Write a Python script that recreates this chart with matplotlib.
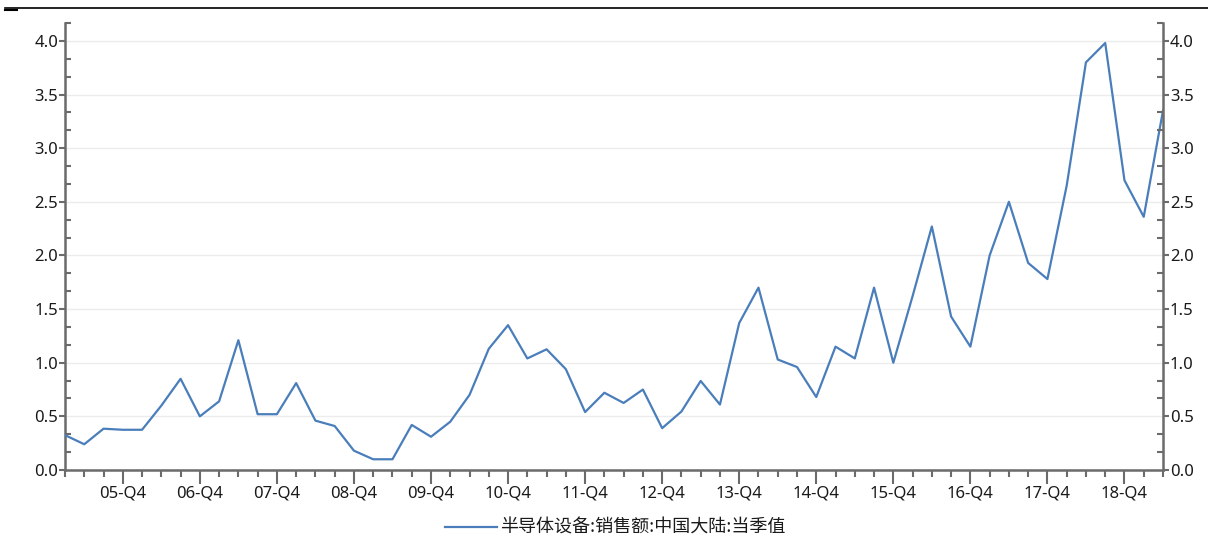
import matplotlib
matplotlib.use("Agg")
import matplotlib.pyplot as plt
from matplotlib.lines import Line2D
from matplotlib.ticker import MultipleLocator, FixedLocator
import numpy as np

plt.rcParams['font.family'] = ['Noto Sans', 'Noto Sans CJK SC', 'DejaVu Sans']

# Quarterly values, 05-Q1 .. 19-Q2
values = [0.325, 0.24, 0.385, 0.375, 0.375, 0.60, 0.85, 0.50, 0.64, 1.21,
          0.52, 0.52, 0.81, 0.46, 0.41, 0.18, 0.10, 0.10, 0.42, 0.31,
          0.45, 0.70, 1.13, 1.35, 1.04, 1.125, 0.94, 0.54, 0.72, 0.625,
          0.75, 0.39, 0.545, 0.83, 0.61, 1.37, 1.70, 1.03, 0.96, 0.68,
          1.15, 1.04, 1.70, 1.00, 1.62, 2.27, 1.43, 1.15, 2.00, 2.50,
          1.93, 1.78, 2.65, 3.80, 3.98, 2.70, 2.36, 3.35]
tick_labels = ['05-Q4', '06-Q4', '07-Q4', '08-Q4', '09-Q4', '10-Q4', '11-Q4',
               '12-Q4', '13-Q4', '14-Q4', '15-Q4', '16-Q4', '17-Q4', '18-Q4']
y_ticks = [0.0, 0.5, 1.0, 1.5, 2.0, 2.5, 3.0, 3.5, 4.0]
series_name = '半导体设备:销售额:中国大陆:当季值'

W, H = 1208, 539
fig = plt.figure(figsize=(W / 100, H / 100), dpi=100)
ax = fig.add_axes([65 / W, (H - 470) / H, (1163 - 65) / W, (470 - 23) / H])

x = np.arange(len(values))
line_color = '#4a7ebb'
ln, = ax.plot(x, values, color=line_color, lw=1.6, label=series_name, zorder=3)

ymax = 4.0 + 0.5 / 3
ax.set_xlim(0, len(values) - 1)
ax.set_ylim(0, ymax)

spine_c = '#6b6b6b'
text_c = '#1a1a1a'
tick_fs = 12
for s in ['top', 'right']:
    ax.spines[s].set_visible(False)
for s in ['left', 'bottom']:
    ax.spines[s].set_color(spine_c)
    ax.spines[s].set_linewidth(1.8)

ax.yaxis.set_major_locator(FixedLocator(y_ticks))
ax.yaxis.set_minor_locator(MultipleLocator(0.5 / 3))
ax.set_yticklabels([f'{v:.1f}' for v in y_ticks])
ax.grid(axis='y', which='major', color='#ececec', lw=1.0, zorder=0)

major_x = [i for i in range(len(values)) if i % 4 == 3]
ax.xaxis.set_major_locator(FixedLocator(major_x))
ax.set_xticklabels(tick_labels)
ax.xaxis.set_minor_locator(FixedLocator(list(range(len(values)))))

ax.tick_params(axis='y', which='major', direction='out', length=4, width=1.5,
               color=spine_c, labelsize=tick_fs, labelcolor=text_c, pad=1)
ax.tick_params(axis='y', which='minor', direction='in', length=4, width=1.5,
               color=spine_c)
ax.tick_params(axis='x', which='major', direction='out', length=10, width=1.5,
               color=spine_c, labelsize=tick_fs, labelcolor=text_c, pad=1)
ax.tick_params(axis='x', which='minor', direction='out', length=5, width=1.5,
               color=spine_c)

ax2 = ax.twinx()
ax2.set_ylim(0, ymax)
for s in ['top', 'left', 'bottom']:
    ax2.spines[s].set_visible(False)
ax2.spines['right'].set_color(spine_c)
ax2.spines['right'].set_linewidth(1.8)
ax2.yaxis.set_major_locator(FixedLocator(y_ticks))
ax2.yaxis.set_minor_locator(MultipleLocator(0.5 / 3))
ax2.set_yticklabels([f'{v:.1f}' for v in y_ticks])
ax2.tick_params(axis='y', which='major', direction='out', length=4, width=1.5,
                color=spine_c, labelsize=tick_fs, labelcolor=text_c, pad=1)
ax2.tick_params(axis='y', which='minor', direction='in', length=4, width=1.5,
                color=spine_c)

leg = fig.legend(handles=[ln], labels=[series_name], loc='center',
                 bbox_to_anchor=(615 / W, 1 - 528 / H), frameon=False,
                 prop={'family': ['Noto Sans CJK SC', 'DejaVu Sans'], 'size': 13},
                 handlelength=2.9, handletextpad=0.15,
                 labelcolor=text_c)

# top rule line
fig.add_artist(Line2D([5 / W, 1.0], [1 - 8 / H, 1 - 8 / H], color='black', lw=1.2))
fig.add_artist(Line2D([5 / W, 17 / W], [1 - 10 / H, 1 - 10 / H], color='black', lw=1.5))

fig.savefig('out.png', dpi=100)
